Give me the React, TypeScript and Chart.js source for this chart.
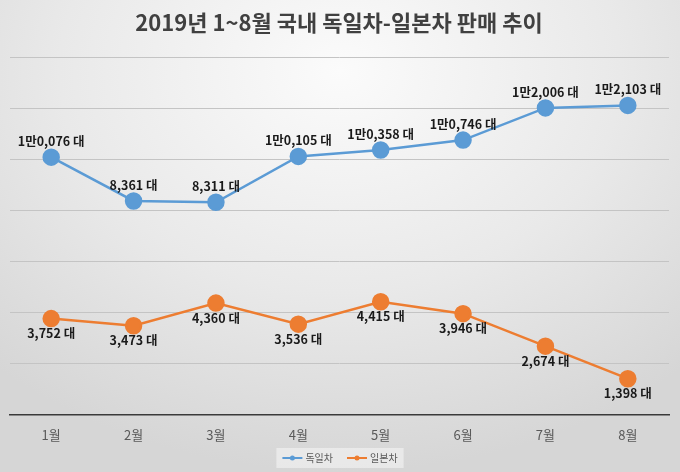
import React, { useEffect, useRef } from "react";
import { Chart, registerables } from "chart.js";

Chart.register(...registerables);

const TITLE = "2019년 1~8월 국내 독일차-일본차 판매 추이";
const MONTHS = ["1월", "2월", "3월", "4월", "5월", "6월", "7월", "8월"];
const GERMAN_NAME = "독일차";
const JAPANESE_NAME = "일본차";
const GERMAN = [10076, 8361, 8311, 10105, 10358, 10746, 12006, 12103];
const JAPANESE = [3752, 3473, 4360, 3536, 4415, 3946, 2674, 1398];
const Y_MIN = 0;
const Y_MAX = 14000;
const Y_STEP = 2000;

const BLUE = "#5B9BD5";
const ORANGE = "#ED7D31";
const FONT = "'Noto Sans CJK KR', 'Noto Sans', sans-serif";

function formatValue(v: number): string {
  if (v >= 10000) {
    const man = Math.floor(v / 10000);
    const rest = String(v % 10000).padStart(4, "0");
    return `${man}만${rest.slice(0, 1)},${rest.slice(1)} 대`;
  }
  return `${v.toLocaleString("en-US")} 대`;
}

const labelPlugin = {
  id: "valueLabels",
  afterDatasetsDraw(chart: any) {
    const ctx = chart.ctx;
    ctx.save();
    ctx.font = `bold 12.5px ${FONT}`;
    ctx.fillStyle = "#1a1a1a";
    ctx.textAlign = "center";
    ctx.textBaseline = "middle";
    chart.data.datasets.forEach((ds: any, di: number) => {
      const meta = chart.getDatasetMeta(di);
      meta.data.forEach((pt: any, i: number) => {
        const v = ds.data[i] as number;
        const dy = di === 0 ? -16 : 15;
        ctx.fillText(formatValue(v), pt.x, pt.y + dy);
      });
    });
    ctx.restore();
  },
};

const legendPlugin = {
  id: "customLegend",
  afterDraw(chart: any) {
    const ctx = chart.ctx;
    const items = [
      { text: GERMAN_NAME, color: BLUE },
      { text: JAPANESE_NAME, color: ORANGE },
    ];
    ctx.save();
    ctx.font = `10px ${FONT}`;
    const lineW = 20;
    const gapText = 3;
    const gapItems = 14;
    const widths = items.map((it) => lineW + gapText + ctx.measureText(it.text).width);
    const total = widths.reduce((a, b) => a + b, 0) + gapItems * (items.length - 1);
    let x = chart.width / 2 - total / 2;
    const y = 458;
    ctx.fillStyle = "rgba(255,255,255,0.45)";
    ctx.fillRect(x - 6, y - 10, total + 12, 20);
    items.forEach((it, i) => {
      ctx.strokeStyle = it.color;
      ctx.lineWidth = 2;
      ctx.beginPath();
      ctx.moveTo(x, y);
      ctx.lineTo(x + lineW, y);
      ctx.stroke();
      ctx.fillStyle = it.color;
      ctx.beginPath();
      ctx.arc(x + lineW / 2, y, 2.5, 0, Math.PI * 2);
      ctx.fill();
      ctx.fillStyle = "#595959";
      ctx.textAlign = "left";
      ctx.textBaseline = "middle";
      ctx.fillText(it.text, x + lineW + gapText, y);
      x += widths[i] + gapItems;
    });
    ctx.restore();
  },
};

export default function App() {
  const canvasRef = useRef<HTMLCanvasElement | null>(null);

  useEffect(() => {
    document.body.style.margin = "0";
    const canvas = canvasRef.current;
    if (!canvas) return;
    const chart = new Chart(canvas, {
      type: "line",
      data: {
        labels: MONTHS,
        datasets: [
          {
            label: GERMAN_NAME,
            data: GERMAN,
            borderColor: BLUE,
            backgroundColor: BLUE,
            pointBackgroundColor: BLUE,
            pointBorderColor: BLUE,
            borderWidth: 2.5,
            pointRadius: 7.5,
            pointHoverRadius: 7.5,
            tension: 0,
          },
          {
            label: JAPANESE_NAME,
            data: JAPANESE,
            borderColor: ORANGE,
            backgroundColor: ORANGE,
            pointBackgroundColor: ORANGE,
            pointBorderColor: ORANGE,
            borderWidth: 2.5,
            pointRadius: 7.5,
            pointHoverRadius: 7.5,
            tension: 0,
          },
        ],
      },
      options: {
        animation: false,
        responsive: false,
        maintainAspectRatio: false,
        layout: { padding: { left: 9, right: 11, top: 0, bottom: 16 } },
        plugins: {
          legend: { display: false },
          tooltip: { enabled: false },
          title: {
            display: true,
            text: TITLE,
            color: "#404040",
            font: { family: FONT, size: 22, weight: "bold" },
            padding: { top: 9, bottom: 21.6 },
          },
        },
        scales: {
          x: {
            offset: true,
            grid: { display: true, drawOnChartArea: false, drawTicks: false, color: "rgba(0,0,0,0)" },
            border: { display: true, color: "#3a3a3a", width: 1.5 },
            ticks: {
              color: "#595959",
              font: { family: FONT, size: 13 },
              padding: 13,
            },
          },
          y: {
            min: Y_MIN,
            max: Y_MAX,
            ticks: { display: false, stepSize: Y_STEP },
            grid: { color: "#c4c4c4", lineWidth: 1, drawTicks: false },
            border: { display: false },
          },
        },
      },
      plugins: [labelPlugin, legendPlugin],
    });
    return () => chart.destroy();
  }, []);

  return (
    <div
      style={{
        width: 680,
        height: 472,
        background:
          "radial-gradient(ellipse 75% 85% at 50% 15%, #fbfbfb 0%, #e9e9e9 55%, #d6d6d6 100%)",
      }}
    >
      <canvas ref={canvasRef} width={680} height={472} style={{ display: "block" }} />
    </div>
  );
}
